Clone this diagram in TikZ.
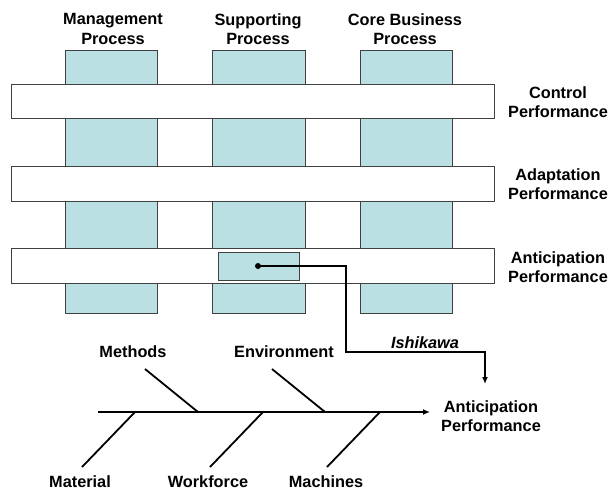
\documentclass[tikz,border=0pt]{standalone}
\usepackage{fontspec}
\setmainfont{Liberation Sans}
\usetikzlibrary{arrows.meta}
\definecolor{barblue}{RGB}{186,224,227}
\definecolor{edge}{RGB}{64,64,64}
\tikzset{
  vbar/.style={draw=edge, fill=barblue, line width=0.9pt},
  hband/.style={draw=edge, fill=white, line width=0.9pt},
  lbl/.style={font=\fontsize{16.3}{19.5}\selectfont\bfseries, align=center, inner sep=0pt},
  bone/.style={line width=1.8pt, black},
  conn/.style={line width=1.8pt, black},
  tip/.style={-{Latex[length=7pt,width=6pt]}}
}
\begin{document}
\begin{tikzpicture}[x=1pt,y=-1pt]
\useasboundingbox (0,0) rectangle (608,491);
% vertical process bars
\draw[vbar] (65,50) rectangle (157,313);
\draw[vbar] (212,50) rectangle (305,313);
\draw[vbar] (360,50) rectangle (452,313);
% horizontal performance bands
\draw[hband] (11,84) rectangle (494,118);
\draw[hband] (11,166) rectangle (494,201);
\draw[hband] (11,248) rectangle (494,283);
% small box
\draw[vbar] (218,252) rectangle (299,280);
% top labels
\node[lbl] (lmgmt) at (113,29) {Management\\Process};
\node[lbl] (lsupp) at (258,29) {Supporting\\Process};
\node[lbl] (lcore) at (405,29) {Core Business\\Process};
% right labels
\node[lbl] (lctrl) at (558,102) {Control\\Performance};
\node[lbl] (ladapt) at (558,184) {Adaptation\\Performance};
\node[lbl] (lantic) at (558,267) {Anticipation\\Performance};
% connector
\fill (258,266) circle (3pt) coordinate (dot);
\coordinate (k1) at (346,352);
\coordinate (k2) at (485,384);
\draw[conn,tip] (dot) -| (k1) -| (k2);
\node[font=\fontsize{16.3}{19.5}\selectfont\bfseries\itshape, inner sep=0pt] (ishi) at (425,343) {Ishikawa};
% fishbone
\coordinate (s0) at (98,412);
\coordinate (s1) at (430,412);
\draw[bone,tip] (s0) -- (s1);
\node[lbl] (fres) at (491,416) {Anticipation\\Performance};
\node[lbl] (lmeth) at (133,352) {Methods};
\node[lbl] (lenv) at (284,352) {Environment};
\node[lbl] (lmat) at (80,482) {Material};
\node[lbl] (lwork) at (208,482) {Workforce};
\node[lbl] (lmach) at (326,482) {Machines};
\coordinate (m1) at (145,369); \coordinate (m2) at (198,412);
\coordinate (e1) at (272,369); \coordinate (e2) at (325,412);
\coordinate (a1) at (135,412); \coordinate (a2) at (82,467);
\coordinate (w1) at (263,412); \coordinate (w2) at (210,467);
\coordinate (h1) at (380,412); \coordinate (h2) at (327,467);
\draw[bone] (m1) -- (m2);
\draw[bone] (e1) -- (e2);
\draw[bone] (a1) -- (a2);
\draw[bone] (w1) -- (w2);
\draw[bone] (h1) -- (h2);
\end{tikzpicture}
\end{document}
